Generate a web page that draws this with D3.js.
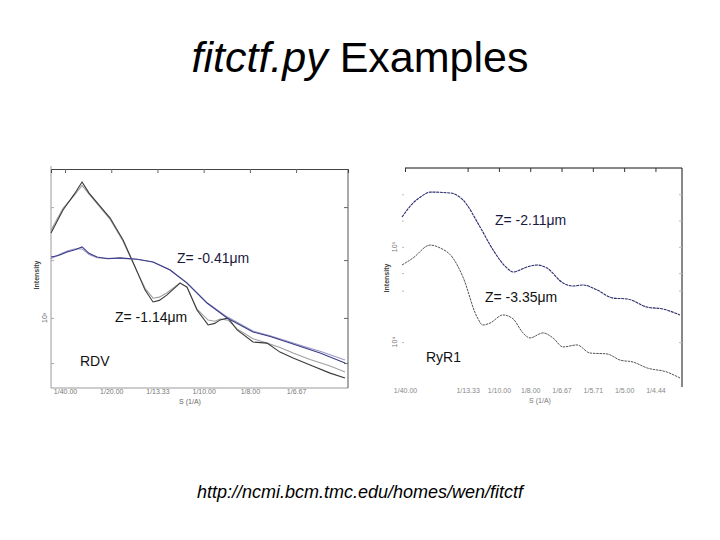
<!DOCTYPE html>
<html><head><meta charset="utf-8">
<script src="https://cdn.jsdelivr.net/npm/d3@7"></script>
<style>body{margin:0;background:#fff}svg{display:block}text{font-family:"Liberation Sans",Arial,sans-serif}</style>
</head><body>
<script>
// ---- Data (S in 1/Å, intensity in relative log units 0..100) ----
const titleItalic = "fitctf.py";
const titleRest = " Examples";
const urlText = "http://ncmi.bcm.tmc.edu/homes/wen/fitctf";

// Left panel (RDV)
const leftTickS = [0.025, 0.05, 0.075, 0.1, 0.125, 0.15];
const leftTickLabels = ["1/40.00", "1/20.00", "1/13.33", "1/10.00", "1/8.00", "1/6.67"];
const rdvLowS   = [0.0174,0.0239,0.0300,0.0342,0.0380,0.0430,0.0494,0.0564,0.0629,0.0683,0.0726,0.0760,0.0802,0.0872,0.0910,0.0964,0.1024,0.1060,0.1089,0.1132,0.1181,0.1267,0.1343,0.1413,0.1484,0.1576,0.1684,0.1765];
const rdvLowObs = [70.8,81.3,88.5,94.1,89.0,84.0,77.6,67.6,55.3,44.7,39.3,40.0,42.5,47.9,46.1,35.6,28.8,29.5,31.1,32.0,26.5,21.0,20.5,16.4,13.7,10.5,6.8,4.6];
const rdvLowFit = [72.0,82.0,88.0,92.5,88.5,83.5,77.0,67.0,55.0,45.5,41.0,41.5,43.5,48.0,46.0,36.0,31.0,30.5,31.5,31.0,27.0,22.5,20.5,18.5,16.0,13.0,10.0,7.3];
const rdvHighS   = [0.0174,0.0215,0.0261,0.0300,0.0342,0.0380,0.0423,0.0480,0.0548,0.0640,0.0726,0.0818,0.0910,0.1018,0.1127,0.1267,0.1360,0.1451,0.1540,0.1630,0.1765];
const rdvHighObs = [59.8,60.5,62.1,63.0,64.4,61.5,59.8,59.0,59.4,58.8,57.5,53.9,47.9,38.8,32.0,25.6,23.5,21.0,18.5,16.0,11.4];
const rdvHighFit = [59.0,60.8,62.5,63.5,63.5,61.0,59.5,59.2,59.2,58.8,57.5,54.0,48.0,39.0,32.5,26.0,23.8,21.5,19.0,16.8,12.8];

// Right panel (RyR1)
const rightTickS = [0.025, 0.075, 0.1, 0.125, 0.15, 0.175, 0.2, 0.225];
const rightTickLabels = ["1/40.00", "1/13.33", "1/10.00", "1/8.00", "1/6.67", "1/5.71", "1/5.00", "1/4.44"];
const ryrHighS = [0.0226,0.0314,0.0380,0.0450,0.0609,0.0713,0.0849,0.0953,0.1065,0.1113,0.1224,0.1304,0.1384,0.1512,0.1592,0.1672,0.1784,0.1911,0.2023,0.2183,0.2311,0.2446];
const ryrHigh  = [77.6,84.0,87.0,89.0,88.6,85.4,73.1,62.6,54.3,52.5,54.8,55.7,54.3,47.5,46.1,46.6,44.3,40.6,40.2,36.5,35.6,32.9];
const ryrLowS = [0.0226,0.0314,0.0450,0.0530,0.0633,0.0713,0.0825,0.0873,0.0929,0.1033,0.1113,0.1192,0.1248,0.1352,0.1432,0.1512,0.1624,0.1728,0.1863,0.1967,0.2071,0.2183,0.2343,0.2446];
const ryrLow  = [55.7,58.9,64.8,63.5,58.9,50.2,32.0,28.3,29.2,32.9,31.1,24.7,22.4,24.7,22.4,18.3,19.2,15.5,15.1,12.3,11.4,8.7,6.8,4.1];

// ---- Drawing ----
const W = 720, H = 540;
const svg = d3.select("body").append("svg").attr("width", W).attr("height", H);

const t = svg.append("text").attr("x", 360).attr("y", 72).attr("text-anchor", "middle")
  .attr("font-size", 43).attr("fill", "#000");
t.append("tspan").attr("font-style", "italic").text(titleItalic);
t.append("tspan").text(titleRest);

svg.append("text").attr("x", 360).attr("y", 498).attr("text-anchor", "middle")
  .attr("font-size", 18).attr("font-style", "italic").attr("fill", "#000").text(urlText);

const lineL = (xs, ys) => d3.line().x(d => xs(d[0])).y(d => ys(d[1])).curve(d3.curveLinear);
const lineR = (xs, ys) => d3.line().x(d => xs(d[0])).y(d => ys(d[1])).curve(d3.curveMonotoneX);
const zip = (a, b) => a.map((v, i) => [v, b[i]]);

// ---------- Left panel ----------
{
  const x = d3.scaleLinear().domain([0.0174, 0.1781]).range([51, 348]);
  const y = d3.scaleLinear().domain([0, 100]).range([388, 169]);
  const g = svg.append("g");

  g.append("line").attr("x1", 51).attr("x2", 51).attr("y1", 166).attr("y2", 388).attr("stroke", "#9a9a9a");
  g.append("line").attr("x1", 51).attr("x2", 348).attr("y1", 388).attr("y2", 388).attr("stroke", "#9a9a9a");
  g.append("line").attr("x1", 348).attr("x2", 348).attr("y1", 169).attr("y2", 388).attr("stroke", "#555");

  const top = g.append("g").attr("transform", "translate(0,169)")
    .call(d3.axisTop(x).tickValues(leftTickS).tickSize(-4).tickFormat(""));
  top.select(".domain").attr("stroke", "#444");
  top.selectAll(".tick line").attr("stroke", "#666");

  const bot = g.append("g").attr("transform", "translate(0,388)")
    .call(d3.axisBottom(x).tickValues(leftTickS).tickSize(0).tickFormat((d, i) => leftTickLabels[i]));
  bot.select(".domain").remove();
  bot.selectAll("text").attr("font-size", 7).attr("fill", "#777").attr("y", 1).attr("dy", "0.71em");

  const yt = [82.6, 58.4, 32.0, 11.4];
  const ra = g.append("g").attr("transform", "translate(348,0)")
    .call(d3.axisRight(y).tickValues(yt).tickSize(-4).tickFormat(""));
  ra.select(".domain").remove();
  ra.selectAll(".tick line").attr("stroke", "#666");
  const la = g.append("g").attr("transform", "translate(51,0)")
    .call(d3.axisLeft(y).tickValues(yt).tickSize(-3).tickFormat(""));
  la.select(".domain").remove();
  la.selectAll(".tick line").attr("stroke", "#aaa");

  g.append("text").attr("transform", "translate(39,275) rotate(-90)").attr("text-anchor", "middle")
    .attr("font-size", 7).attr("font-weight", "bold").attr("fill", "#444").text("Intensity");
  g.append("text").attr("transform", `translate(47,${y(32)}) rotate(-90)`).attr("text-anchor", "middle")
    .attr("font-size", 7).attr("fill", "#666").text("10³");
  g.append("text").attr("x", 190).attr("y", 404).attr("text-anchor", "middle")
    .attr("font-size", 7).attr("fill", "#666").text("S (1/A)");

  g.append("path").attr("d", lineL(x, y)(zip(rdvLowS, rdvLowFit))).attr("fill", "none").attr("stroke", "#a0a0a0").attr("stroke-width", 1.1);
  g.append("path").attr("d", lineL(x, y)(zip(rdvLowS, rdvLowObs))).attr("fill", "none").attr("stroke", "#3a3a3a").attr("stroke-width", 1.1);
  g.append("path").attr("d", lineL(x, y)(zip(rdvHighS, rdvHighFit))).attr("fill", "none").attr("stroke", "#9a9ac4").attr("stroke-width", 1.1);
  g.append("path").attr("d", lineL(x, y)(zip(rdvHighS, rdvHighObs))).attr("fill", "none").attr("stroke", "#3a3a8a").attr("stroke-width", 1.1);

  g.append("text").attr("x", 177).attr("y", 263).attr("font-size", 14).attr("fill", "#1a1a40").text("Z= -0.41μm");
  g.append("text").attr("x", 115).attr("y", 322).attr("font-size", 14).attr("fill", "#111").text("Z= -1.14μm");
  g.append("text").attr("x", 80).attr("y", 366).attr("font-size", 14).attr("fill", "#111").text("RDV");
}

// ---------- Right panel ----------
{
  const x = d3.scaleLinear().domain([0.0226, 0.2462]).range([402, 682]);
  const y = d3.scaleLinear().domain([0, 100]).range([387, 168]);
  const g = svg.append("g");

  const top = g.append("g").attr("transform", "translate(0,168)")
    .call(d3.axisTop(x).tickValues(rightTickS).tickSize(-4).tickFormat(""));
  top.select(".domain").attr("stroke", "#111").attr("d", `M${x(0.025)},0H682`);
  top.selectAll(".tick line").attr("stroke", "#333");
  g.append("line").attr("x1", 682).attr("x2", 682).attr("y1", 168).attr("y2", 387).attr("stroke", "#111");

  const yt = [88, 76, 64, 52, 44, 20.5];
  const la = g.append("g").attr("transform", "translate(402,0)")
    .call(d3.axisLeft(y).tickValues(yt).tickSize(-2).tickFormat(""));
  la.select(".domain").remove();
  la.selectAll(".tick line").attr("stroke", "#bbb");
  const ra = g.append("g").attr("transform", "translate(682,0)")
    .call(d3.axisRight(y).tickValues(yt).tickSize(-3).tickFormat(""));
  ra.select(".domain").remove();
  ra.selectAll(".tick line").attr("stroke", "#bbb");

  const bot = g.append("g").attr("transform", "translate(0,387)")
    .call(d3.axisBottom(x).tickValues(rightTickS).tickSize(0).tickFormat((d, i) => rightTickLabels[i]));
  bot.select(".domain").remove();
  bot.selectAll("text").attr("font-size", 7).attr("fill", "#888").attr("y", 1).attr("dy", "0.71em");

  g.append("text").attr("transform", "translate(389,278) rotate(-90)").attr("text-anchor", "middle")
    .attr("font-size", 7).attr("font-weight", "bold").attr("fill", "#444").text("Intensity");
  g.append("text").attr("transform", `translate(397,${y(64)}) rotate(-90)`).attr("text-anchor", "middle")
    .attr("font-size", 7).attr("fill", "#777").text("10⁵");
  g.append("text").attr("transform", `translate(397,${y(20.5)}) rotate(-90)`).attr("text-anchor", "middle")
    .attr("font-size", 7).attr("fill", "#777").text("10⁴");
  g.append("text").attr("x", 540).attr("y", 403).attr("text-anchor", "middle")
    .attr("font-size", 7).attr("fill", "#777").text("S (1/A)");

  g.append("path").attr("d", lineR(x, y)(zip(ryrHighS, ryrHigh))).attr("fill", "none").attr("stroke", "#2a2a6e").attr("stroke-width", 1.1).attr("stroke-dasharray", "3,0.7");
  g.append("path").attr("d", lineR(x, y)(zip(ryrLowS, ryrLow))).attr("fill", "none").attr("stroke", "#555").attr("stroke-width", 1).attr("stroke-dasharray", "2.5,0.8");

  g.append("text").attr("x", 495).attr("y", 225).attr("font-size", 14).attr("fill", "#1a1a40").text("Z= -2.11μm");
  g.append("text").attr("x", 485).attr("y", 302).attr("font-size", 14).attr("fill", "#111").text("Z= -3.35μm");
  g.append("text").attr("x", 426).attr("y", 362).attr("font-size", 14).attr("fill", "#111").text("RyR1");
}
</script>
</body></html>
